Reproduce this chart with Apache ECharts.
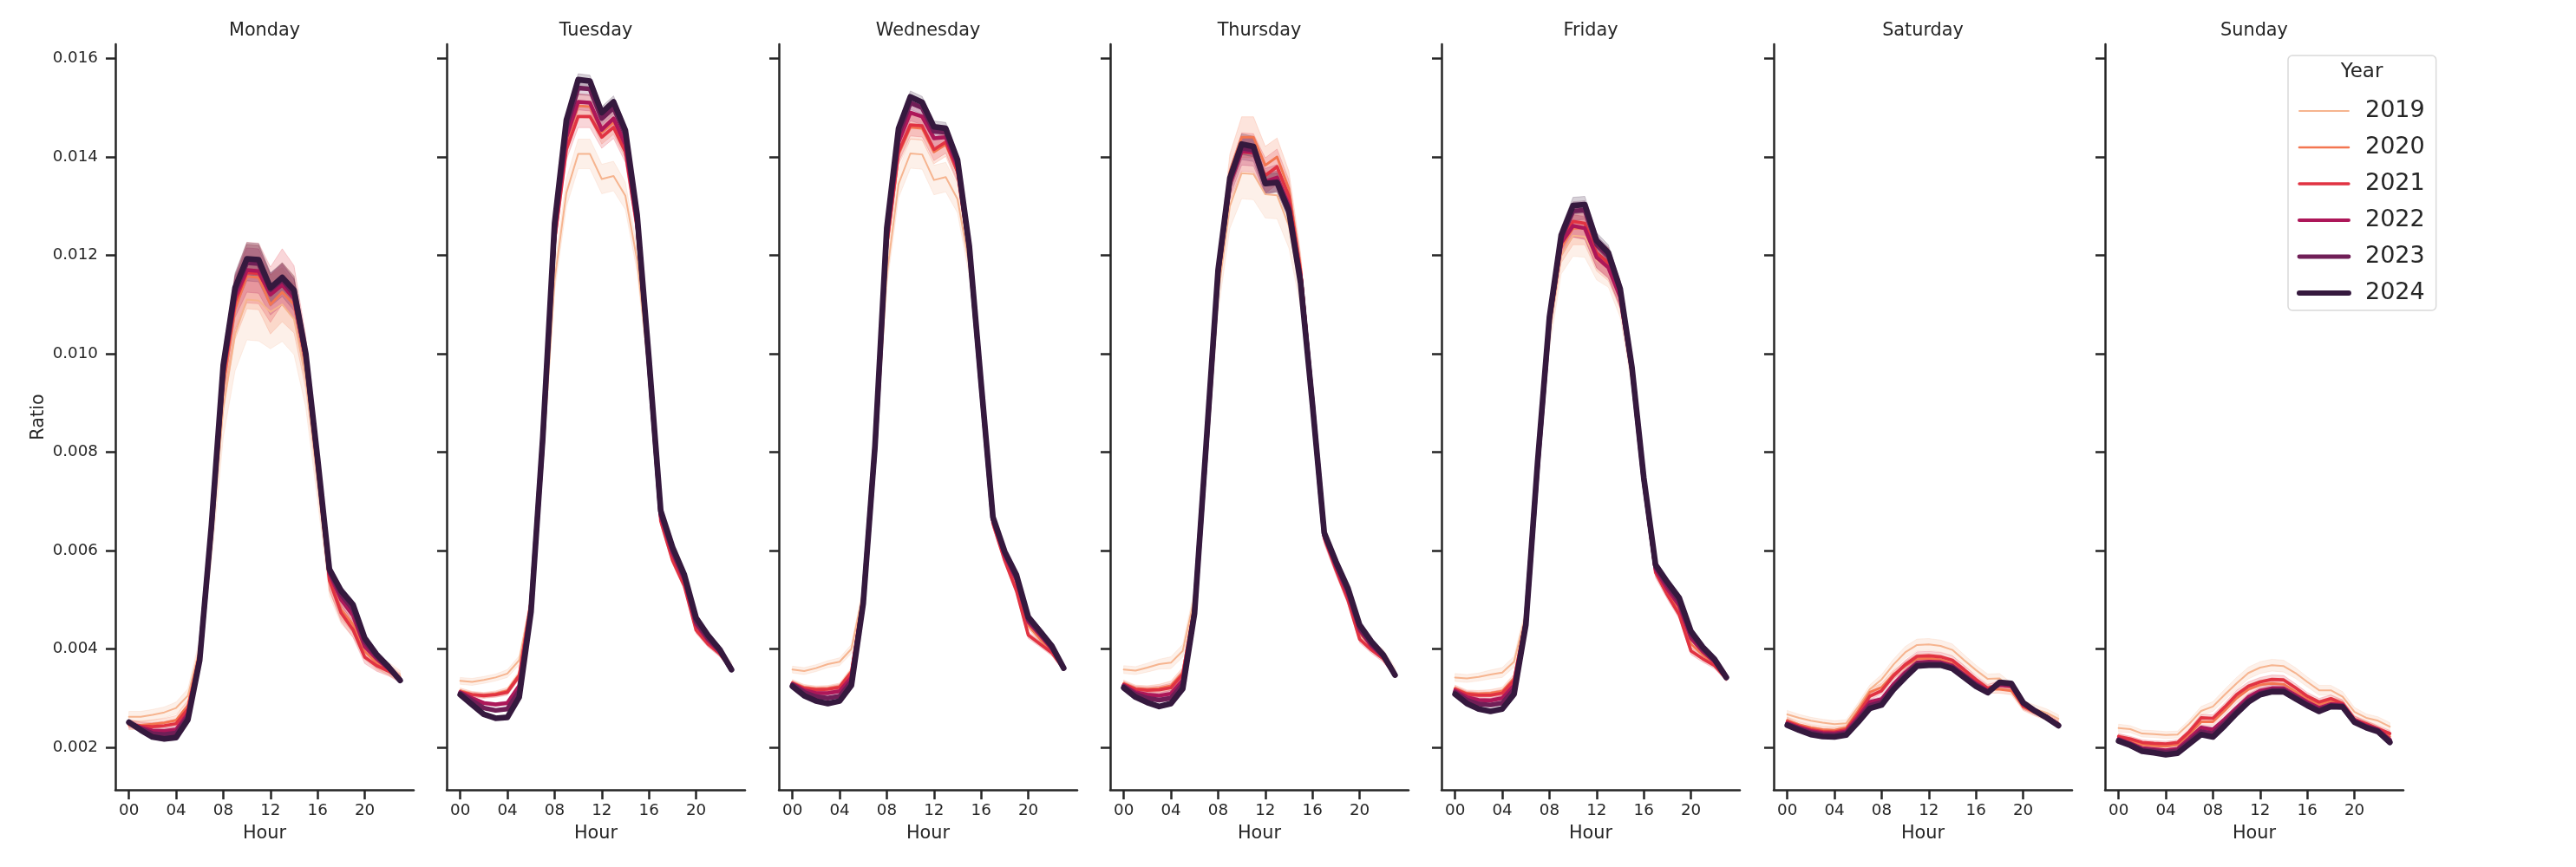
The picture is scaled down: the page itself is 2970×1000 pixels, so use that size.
<!DOCTYPE html>
<html><head><meta charset="utf-8">
<script src="https://cdn.jsdelivr.net/npm/echarts@6/dist/echarts.min.js"></script>
<style>html,body{margin:0;padding:0;background:#fff}#c{width:2970px;height:1000px}</style>
</head><body><div id="c"></div>
<script>
const hours = [0,1,2,3,4,5,6,7,8,9,10,11,12,13,14,15,16,17,18,19,20,21,22,23];
const years = ['2019','2020','2021','2022','2023','2024'];
const days = ['Monday','Tuesday','Wednesday','Thursday','Friday','Saturday','Sunday'];
const xTickValues = [0,4,8,12,16,20];
const xTickLabels = ['00','04','08','12','16','20'];
const yTickValues = [0.002,0.004,0.006,0.008,0.010,0.012,0.014,0.016];

// Monday
const mon_2019 = [0.00262,0.00262,0.00266,0.00271,0.00280,0.00305,0.00400,0.00610,0.00890,0.01040,0.01110,0.01108,0.01085,0.01100,0.01070,0.00950,0.00745,0.00535,0.00475,0.00445,0.00395,0.00372,0.00360,0.00345];
const mon_2020 = [0.00245,0.00245,0.00247,0.00250,0.00255,0.00285,0.00395,0.00630,0.00930,0.01090,0.01157,0.01155,0.01100,0.01125,0.01100,0.00975,0.00760,0.00540,0.00480,0.00450,0.00395,0.00372,0.00358,0.00342];
const mon_2021 = [0.00248,0.00243,0.00242,0.00244,0.00248,0.00278,0.00388,0.00640,0.00950,0.01105,0.01165,0.01163,0.01120,0.01157,0.01125,0.00990,0.00770,0.00540,0.00473,0.00439,0.00383,0.00366,0.00355,0.00340];
const mon_2022 = [0.00249,0.00240,0.00234,0.00233,0.00236,0.00268,0.00383,0.00645,0.00960,0.01115,0.01170,0.01168,0.01120,0.01140,0.01112,0.00990,0.00778,0.00553,0.00500,0.00468,0.00405,0.00380,0.00360,0.00338];
const mon_2023 = [0.00250,0.00238,0.00228,0.00226,0.00229,0.00262,0.00380,0.00648,0.00968,0.01125,0.01185,0.01183,0.01130,0.01150,0.01120,0.00995,0.00782,0.00558,0.00510,0.00480,0.00415,0.00385,0.00362,0.00337];
const mon_2024 = [0.00251,0.00235,0.00221,0.00217,0.00220,0.00256,0.00377,0.00652,0.00977,0.01134,0.01193,0.01191,0.01134,0.01155,0.01129,0.01000,0.00787,0.00562,0.00518,0.00490,0.00422,0.00389,0.00364,0.00336];
// Tuesday
const tue_2019 = [0.00335,0.00333,0.00337,0.00342,0.00350,0.00377,0.00500,0.00780,0.01150,0.01327,0.01406,0.01406,0.01355,0.01361,0.01321,0.01190,0.00960,0.00670,0.00598,0.00545,0.00455,0.00420,0.00395,0.00365];
const tue_2020 = [0.00315,0.00308,0.00306,0.00309,0.00315,0.00348,0.00498,0.00815,0.01225,0.01430,0.01504,0.01502,0.01450,0.01470,0.01420,0.01260,0.00978,0.00668,0.00592,0.00538,0.00448,0.00415,0.00392,0.00362];
const tue_2021 = [0.00312,0.00307,0.00305,0.00307,0.00312,0.00345,0.00495,0.00820,0.01230,0.01415,0.01482,0.01482,0.01440,0.01460,0.01410,0.01255,0.00975,0.00660,0.00580,0.00528,0.00438,0.00410,0.00390,0.00360];
const tue_2022 = [0.00312,0.00300,0.00290,0.00287,0.00290,0.00325,0.00485,0.00822,0.01245,0.01440,0.01512,0.01510,0.01455,0.01478,0.01425,0.01265,0.00980,0.00670,0.00595,0.00540,0.00450,0.00418,0.00394,0.00360];
const tue_2023 = [0.00310,0.00295,0.00280,0.00275,0.00278,0.00315,0.00480,0.00828,0.01255,0.01460,0.01540,0.01538,0.01478,0.01500,0.01445,0.01275,0.00985,0.00675,0.00600,0.00545,0.00455,0.00422,0.00396,0.00358];
const tue_2024 = [0.00307,0.00287,0.00267,0.00259,0.00261,0.00302,0.00475,0.00830,0.01265,0.01475,0.01557,0.01554,0.01490,0.01512,0.01454,0.01282,0.00990,0.00681,0.00607,0.00551,0.00463,0.00428,0.00399,0.00358];
// Wednesday
const wed_2019 = [0.00358,0.00355,0.00361,0.00369,0.00374,0.00400,0.00515,0.00780,0.01160,0.01345,0.01407,0.01405,0.01353,0.01359,0.01314,0.01180,0.00925,0.00660,0.00590,0.00538,0.00450,0.00422,0.00398,0.00364];
const wed_2020 = [0.00332,0.00322,0.00319,0.00320,0.00324,0.00355,0.00508,0.00800,0.01215,0.01405,0.01460,0.01458,0.01410,0.01425,0.01368,0.01205,0.00932,0.00660,0.00588,0.00535,0.00448,0.00420,0.00396,0.00362];
const wed_2021 = [0.00330,0.00320,0.00317,0.00318,0.00322,0.00352,0.00505,0.00805,0.01220,0.01410,0.01465,0.01463,0.01415,0.01430,0.01370,0.01205,0.00932,0.00655,0.00580,0.00518,0.00428,0.00410,0.00392,0.00360];
const wed_2022 = [0.00329,0.00316,0.00310,0.00310,0.00314,0.00342,0.00498,0.00808,0.01235,0.01430,0.01490,0.01482,0.01438,0.01440,0.01380,0.01210,0.00935,0.00662,0.00590,0.00540,0.00455,0.00428,0.00400,0.00362];
const wed_2023 = [0.00327,0.00312,0.00303,0.00300,0.00304,0.00334,0.00495,0.00810,0.01245,0.01445,0.01510,0.01500,0.01452,0.01450,0.01388,0.01215,0.00938,0.00665,0.00594,0.00545,0.00460,0.00432,0.00403,0.00361];
const wed_2024 = [0.00324,0.00305,0.00294,0.00289,0.00294,0.00326,0.00492,0.00812,0.01255,0.01458,0.01522,0.01511,0.01461,0.01458,0.01394,0.01218,0.00940,0.00668,0.00598,0.00550,0.00465,0.00436,0.00406,0.00361];
// Thursday
const thu_2019 = [0.00358,0.00356,0.00362,0.00369,0.00372,0.00396,0.00505,0.00780,0.01120,0.01300,0.01367,0.01365,0.01324,0.01322,0.01260,0.01130,0.00895,0.00635,0.00572,0.00515,0.00440,0.00410,0.00390,0.00355];
const thu_2020 = [0.00330,0.00320,0.00318,0.00320,0.00325,0.00352,0.00490,0.00805,0.01165,0.01370,0.01440,0.01440,0.01383,0.01400,0.01335,0.01175,0.00915,0.00632,0.00568,0.00510,0.00432,0.00405,0.00384,0.00350];
const thu_2021 = [0.00328,0.00318,0.00316,0.00317,0.00321,0.00348,0.00485,0.00810,0.01155,0.01345,0.01410,0.01408,0.01362,0.01380,0.01320,0.01165,0.00910,0.00625,0.00560,0.00500,0.00420,0.00398,0.00380,0.00348];
const thu_2022 = [0.00326,0.00312,0.00307,0.00305,0.00309,0.00336,0.00478,0.00812,0.01160,0.01345,0.01412,0.01410,0.01350,0.01358,0.01302,0.01158,0.00905,0.00630,0.00568,0.00512,0.00438,0.00406,0.00384,0.00348];
const thu_2023 = [0.00324,0.00308,0.00300,0.00296,0.00300,0.00328,0.00475,0.00815,0.01165,0.01350,0.01418,0.01414,0.01345,0.01350,0.01295,0.01150,0.00900,0.00632,0.00572,0.00518,0.00443,0.00410,0.00386,0.00347];
const thu_2024 = [0.00321,0.00302,0.00291,0.00283,0.00289,0.00319,0.00472,0.00820,0.01170,0.01357,0.01426,0.01421,0.01346,0.01348,0.01290,0.01143,0.00897,0.00636,0.00577,0.00524,0.00449,0.00415,0.00388,0.00347];
// Friday
const fri_2019 = [0.00342,0.00340,0.00343,0.00348,0.00352,0.00374,0.00470,0.00750,0.01040,0.01200,0.01240,0.01238,0.01190,0.01175,0.01110,0.00960,0.00745,0.00565,0.00525,0.00488,0.00420,0.00395,0.00375,0.00345];
const fri_2020 = [0.00320,0.00310,0.00309,0.00310,0.00314,0.00340,0.00462,0.00765,0.01055,0.01215,0.01255,0.01255,0.01200,0.01180,0.01120,0.00965,0.00742,0.00560,0.00518,0.00480,0.00410,0.00388,0.00370,0.00342];
const fri_2021 = [0.00318,0.00308,0.00306,0.00306,0.00310,0.00336,0.00460,0.00768,0.01062,0.01225,0.01269,0.01265,0.01205,0.01185,0.01120,0.00965,0.00740,0.00555,0.00510,0.00470,0.00396,0.00380,0.00366,0.00340];
const fri_2022 = [0.00315,0.00302,0.00296,0.00295,0.00300,0.00326,0.00455,0.00770,0.01065,0.01225,0.01260,0.01255,0.01196,0.01175,0.01115,0.00965,0.00742,0.00562,0.00522,0.00488,0.00422,0.00395,0.00374,0.00342];
const fri_2023 = [0.00312,0.00296,0.00288,0.00286,0.00290,0.00318,0.00452,0.00775,0.01070,0.01235,0.01290,0.01292,0.01222,0.01198,0.01128,0.00970,0.00745,0.00567,0.00530,0.00496,0.00430,0.00400,0.00377,0.00342];
const fri_2024 = [0.00308,0.00289,0.00278,0.00273,0.00278,0.00308,0.00449,0.00780,0.01074,0.01241,0.01301,0.01303,0.01230,0.01205,0.01132,0.00972,0.00748,0.00571,0.00536,0.00504,0.00436,0.00404,0.00379,0.00342];
// Saturday
const sat_2019 = [0.00267,0.00260,0.00254,0.00250,0.00247,0.00249,0.00282,0.00318,0.00338,0.00368,0.00393,0.00408,0.00409,0.00406,0.00398,0.00377,0.00357,0.00339,0.00340,0.00321,0.00286,0.00278,0.00270,0.00258];
const sat_2020 = [0.00255,0.00246,0.00240,0.00236,0.00235,0.00240,0.00274,0.00312,0.00322,0.00348,0.00365,0.00380,0.00381,0.00378,0.00370,0.00352,0.00333,0.00318,0.00318,0.00315,0.00282,0.00270,0.00261,0.00248];
const sat_2021 = [0.00252,0.00243,0.00236,0.00232,0.00231,0.00236,0.00268,0.00304,0.00315,0.00345,0.00368,0.00385,0.00386,0.00384,0.00377,0.00358,0.00338,0.00320,0.00328,0.00323,0.00284,0.00272,0.00262,0.00247];
const sat_2022 = [0.00249,0.00240,0.00233,0.00229,0.00228,0.00232,0.00261,0.00292,0.00298,0.00328,0.00352,0.00372,0.00374,0.00373,0.00366,0.00348,0.00330,0.00315,0.00327,0.00325,0.00288,0.00274,0.00262,0.00246];
const sat_2023 = [0.00247,0.00238,0.00230,0.00226,0.00225,0.00229,0.00256,0.00285,0.00292,0.00322,0.00347,0.00369,0.00371,0.00370,0.00363,0.00345,0.00327,0.00313,0.00330,0.00328,0.00290,0.00274,0.00261,0.00245];
const sat_2024 = [0.00245,0.00235,0.00226,0.00222,0.00221,0.00225,0.00251,0.00279,0.00286,0.00317,0.00342,0.00365,0.00367,0.00367,0.00360,0.00342,0.00324,0.00311,0.00332,0.00330,0.00291,0.00274,0.00260,0.00244];
// Sunday
const sun_2019 = [0.00239,0.00237,0.00228,0.00227,0.00225,0.00226,0.00248,0.00274,0.00283,0.00307,0.00330,0.00351,0.00362,0.00367,0.00365,0.00351,0.00333,0.00316,0.00316,0.00303,0.00272,0.00260,0.00254,0.00242];
const sun_2020 = [0.00220,0.00214,0.00205,0.00203,0.00202,0.00205,0.00226,0.00252,0.00252,0.00275,0.00300,0.00318,0.00327,0.00330,0.00328,0.00313,0.00298,0.00287,0.00294,0.00287,0.00256,0.00246,0.00237,0.00222];
const sun_2021 = [0.00222,0.00217,0.00210,0.00208,0.00207,0.00210,0.00232,0.00260,0.00259,0.00282,0.00307,0.00324,0.00333,0.00338,0.00337,0.00321,0.00304,0.00292,0.00299,0.00289,0.00257,0.00248,0.00238,0.00228];
const sun_2022 = [0.00217,0.00208,0.00198,0.00196,0.00194,0.00197,0.00218,0.00240,0.00236,0.00257,0.00280,0.00302,0.00315,0.00320,0.00320,0.00306,0.00292,0.00280,0.00288,0.00286,0.00255,0.00244,0.00236,0.00216];
const sun_2023 = [0.00215,0.00206,0.00195,0.00193,0.00190,0.00193,0.00212,0.00232,0.00228,0.00250,0.00274,0.00296,0.00310,0.00316,0.00316,0.00302,0.00288,0.00276,0.00285,0.00284,0.00253,0.00242,0.00234,0.00213];
const sun_2024 = [0.00213,0.00204,0.00192,0.00189,0.00185,0.00188,0.00207,0.00226,0.00221,0.00244,0.00269,0.00292,0.00307,0.00313,0.00313,0.00299,0.00285,0.00273,0.00283,0.00282,0.00251,0.00240,0.00232,0.00210];

// 95% CI half-widths per day (hour by hour), and relative CI size per year
const mon_ci = [0.00011,0.00011,0.00011,0.00011,0.00012,0.00014,0.00020,0.00035,0.00060,0.00075,0.00082,0.00082,0.00075,0.00075,0.00072,0.00060,0.00045,0.00028,0.00024,0.00021,0.00017,0.00015,0.00013,0.00011];
const tue_ci = [0.00007,0.00007,0.00007,0.00007,0.00008,0.00009,0.00012,0.00018,0.00024,0.00028,0.00030,0.00030,0.00030,0.00030,0.00028,0.00024,0.00018,0.00012,0.00010,0.00010,0.00009,0.00008,0.00008,0.00007];
const wed_ci = [0.00007,0.00007,0.00007,0.00007,0.00008,0.00009,0.00012,0.00018,0.00024,0.00028,0.00030,0.00030,0.00030,0.00030,0.00028,0.00024,0.00018,0.00012,0.00010,0.00010,0.00009,0.00008,0.00008,0.00007];
const thu_ci = [0.00008,0.00008,0.00009,0.00010,0.00012,0.00013,0.00016,0.00024,0.00035,0.00045,0.00052,0.00052,0.00048,0.00048,0.00045,0.00036,0.00026,0.00016,0.00013,0.00012,0.00010,0.00009,0.00009,0.00008];
const fri_ci = [0.00008,0.00008,0.00008,0.00009,0.00010,0.00011,0.00014,0.00020,0.00030,0.00038,0.00042,0.00042,0.00040,0.00040,0.00036,0.00030,0.00022,0.00014,0.00012,0.00011,0.00010,0.00009,0.00008,0.00008];
const sat_ci = [0.00008,0.00007,0.00007,0.00007,0.00007,0.00007,0.00008,0.00009,0.00010,0.00011,0.00012,0.00012,0.00012,0.00012,0.00012,0.00011,0.00010,0.00010,0.00010,0.00010,0.00009,0.00008,0.00008,0.00008];
const sun_ci = [0.00008,0.00007,0.00007,0.00007,0.00007,0.00007,0.00008,0.00009,0.00010,0.00011,0.00012,0.00012,0.00012,0.00012,0.00012,0.00011,0.00010,0.00010,0.00010,0.00010,0.00009,0.00008,0.00008,0.00008];
const ciYearScale = [1.0, 0.8, 0.75, 0.55, 0.45, 0.4];

const yearColors = ['#f6b48f','#f37651','#e13342','#ad1759','#701f57','#35193e'];
const yearWidths = [2.0, 2.9, 3.7, 4.5, 5.4, 6.6];

const dayData = [
  [mon_2019,mon_2020,mon_2021,mon_2022,mon_2023,mon_2024],
  [tue_2019,tue_2020,tue_2021,tue_2022,tue_2023,tue_2024],
  [wed_2019,wed_2020,wed_2021,wed_2022,wed_2023,wed_2024],
  [thu_2019,thu_2020,thu_2021,thu_2022,thu_2023,thu_2024],
  [fri_2019,fri_2020,fri_2021,fri_2022,fri_2023,fri_2024],
  [sat_2019,sat_2020,sat_2021,sat_2022,sat_2023,sat_2024],
  [sun_2019,sun_2020,sun_2021,sun_2022,sun_2023,sun_2024]
];
const dayCi = [mon_ci,tue_ci,wed_ci,thu_ci,fri_ci,sat_ci,sun_ci];

function rgba(hex, a){
  const r=parseInt(hex.slice(1,3),16), g=parseInt(hex.slice(3,5),16), b=parseInt(hex.slice(5,7),16);
  return 'rgba('+r+','+g+','+b+','+a+')';
}

const TXT = '#262626';
const FONT = 'DejaVu Sans';
const GRID_TOP = 51, GRID_H = 860, GRID_W = 344;
const grids=[], xAxes=[], yAxes=[], titles=[], bandSeries=[], lineSeries=[];

days.forEach((day, i) => {
  const left = Math.round(133 + i*382.3);
  grids.push({left: left, top: GRID_TOP, width: GRID_W, height: GRID_H, containLabel: false});
  titles.push({text: day, left: left + GRID_W/2, top: 25, textAlign: 'center', padding: 0, z: 30,
    textStyle: {fontFamily: FONT, fontSize: 20.8, fontWeight: 'normal', color: TXT}});
  xAxes.push({
    gridIndex: i, type: 'value', min: -1.15, max: 24.15,
    name: 'Hour', nameLocation: 'middle', nameGap: 40,
    nameTextStyle: {fontFamily: FONT, fontSize: 20.8, color: TXT},
    axisLine: {onZero: false, lineStyle: {color: TXT, width: 2.5}},
    axisTick: {show: true, length: 11, lineStyle: {color: TXT, width: 2.5}, customValues: xTickValues},
    axisLabel: {fontFamily: FONT, fontSize: 18.3, color: TXT, margin: 15, customValues: xTickValues,
      formatter: v => xTickLabels[xTickValues.indexOf(v)]},
    splitLine: {show: false}
  });
  yAxes.push({
    gridIndex: i, type: 'value', min: 0.001136, max: 0.01629,
    name: i === 0 ? 'Ratio' : '', nameLocation: 'middle', nameGap: 78, nameRotate: 90,
    nameTextStyle: {fontFamily: FONT, fontSize: 20.8, color: TXT},
    axisLine: {show: true, onZero: false, lineStyle: {color: TXT, width: 2.5}},
    axisTick: {show: true, length: 11, lineStyle: {color: TXT, width: 2.5}, customValues: yTickValues},
    axisLabel: {show: i === 0, fontFamily: FONT, fontSize: 18.3, color: TXT, margin: 20, customValues: yTickValues,
      formatter: v => v.toFixed(3)},
    splitLine: {show: false}
  });
  dayData[i].forEach((vals, y) => {
    const ci = dayCi[i];
    const sc = ciYearScale[y];
    bandSeries.push({
      type: 'custom', name: years[y] + ' CI', xAxisIndex: i, yAxisIndex: i,
      silent: true, z: 1, animation: false,
      data: [[hours[0], vals[0]]],
      renderItem: (params, api) => {
        const up = hours.map((h,k) => api.coord([h, vals[k] + ci[k]*sc]));
        const dn = hours.map((h,k) => api.coord([h, vals[k] - ci[k]*sc])).reverse();
        return {type: 'polygon', shape: {points: up.concat(dn)},
          style: {fill: rgba(yearColors[y], 0.2), stroke: rgba(yearColors[y], 0.2), lineWidth: 1}};
      }
    });
    lineSeries.push({
      type: 'line', name: years[y], xAxisIndex: i, yAxisIndex: i,
      data: hours.map((h,k) => [h, vals[k]]),
      symbol: 'none', silent: true, animation: false, z: 3 + y,
      color: yearColors[y],
      lineStyle: {color: yearColors[y], width: yearWidths[y], join: 'round', cap: 'round'},
      itemStyle: {color: yearColors[y]}
    });
  });
});

titles.push({text: 'Year', left: 2723, top: 72, textAlign: 'center', padding: 0, z: 40, zlevel: 1,
  textStyle: {fontFamily: FONT, fontSize: 23, fontWeight: 'normal', color: TXT}});

const legendItems = years.map((yr, y) => ({
  name: yr,
  itemStyle: {opacity: 0},
  lineStyle: {color: yearColors[y], width: yearWidths[y] * 0.9, cap: 'round', opacity: 1}
}));

const chart = echarts.init(document.getElementById('c'), null, {renderer: 'canvas'});
chart.setOption({
  backgroundColor: '#ffffff',
  animation: false,
  title: titles,
  grid: grids,
  xAxis: xAxes,
  yAxis: yAxes,
  legend: {
    data: legendItems, orient: 'vertical', left: 2638, top: 64,
    padding: [49, 13, 5, 10],
    itemWidth: 57, itemHeight: 14, itemGap: 12,
    backgroundColor: 'rgba(255,255,255,0.8)', borderColor: '#d9d9d9', borderWidth: 1.5, borderRadius: 5,
    textStyle: {fontFamily: FONT, fontSize: 27, color: TXT, lineHeight: 30, padding: [0,0,0,14]},
    selectedMode: false, z: 20
  },
  series: bandSeries.concat(lineSeries)
});
</script></body></html>
